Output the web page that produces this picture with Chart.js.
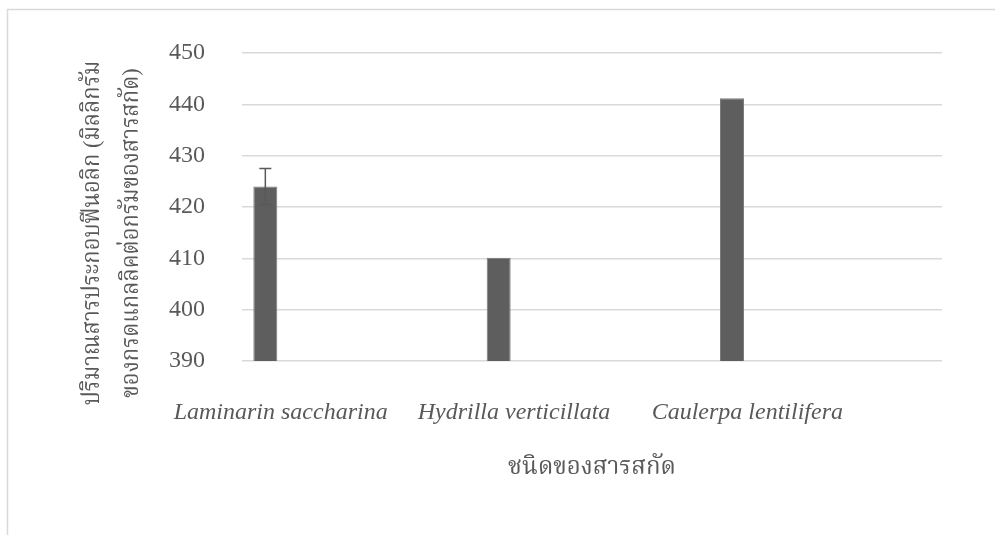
<!DOCTYPE html>
<html>
<head>
<meta charset="utf-8">
<script src="https://cdn.jsdelivr.net/npm/chart.js@4.4.1/dist/chart.umd.min.js"></script>
<style>
  html, body { margin: 0; padding: 0; background: #fff; }
  #wrap { width: 995px; height: 535px; position: relative; }
</style>
</head>
<body>
<div id="wrap"><canvas id="chart"></canvas></div>
<script>
// data
const CATEGORIES = ['Laminarin saccharina', 'Hydrilla verticillata', 'Caulerpa lentilifera'];
const PHENOLIC = [424.0, 410.1, 441.2];
const PHENOLIC_ERR = [3.5, 0, 0];
const Y_TICKS = [390, 400, 410, 420, 430, 440, 450];
const Y_TITLE_LINES = ['ปริมาณสารประกอบฟีนอลิก (มิลลิกรัม', 'ของกรดแกลลิคต่อกรัมของสารสกัด)'];
const X_TITLE = 'ชนิดของสารสกัด';

const SERIF = '"Liberation Serif", "Noto Serif Thai", "Noto Sans Thai", serif';
const TEXT_COLOR = '#595959';
const SLOTS = 5; // the original chart reserves room for 5 series per category

const datasets = [{
    label: 'phenolic',
    data: PHENOLIC,
    backgroundColor: '#5e5e5e',
    borderColor: '#7a7a7a',
    borderWidth: 1,
    barPercentage: 0.514,
    categoryPercentage: 1
}];
for (let i = 1; i < SLOTS; i++) {
    datasets.push({ label: 'empty' + i, data: CATEGORIES.map(() => null), barPercentage: 0.514, categoryPercentage: 1 });
}

const framePlugin = {
    id: 'frame',
    beforeDraw(chart) {
        const ctx = chart.ctx;
        ctx.save();
        ctx.fillStyle = '#fff';
        ctx.fillRect(0, 0, chart.width, chart.height);
        ctx.strokeStyle = '#d9d9d9';
        ctx.lineWidth = 1.5;
        ctx.strokeRect(7.5, 9.5, 1100, 1100);
        ctx.restore();
    }
};

const errorBarPlugin = {
    id: 'errorBars',
    afterDatasetsDraw(chart) {
        const ctx = chart.ctx;
        const y = chart.scales.y;
        const meta = chart.getDatasetMeta(0);
        ctx.save();
        ctx.strokeStyle = '#595959';
        ctx.lineWidth = 1.5;
        meta.data.forEach((bar, i) => {
            const e = PHENOLIC_ERR[i];
            if (!e) return;
            const top = y.getPixelForValue(PHENOLIC[i] + e);
            const bot = y.getPixelForValue(PHENOLIC[i] - e);
            ctx.beginPath();
            ctx.moveTo(bar.x, top); ctx.lineTo(bar.x, bot);
            ctx.moveTo(bar.x - 6, top); ctx.lineTo(bar.x + 6, top);
            ctx.moveTo(bar.x - 6, bot); ctx.lineTo(bar.x + 6, bot);
            ctx.stroke();
        });
        ctx.restore();
    }
};

// axis titles, centred on the plot area like the original
const titlesPlugin = {
    id: 'titles',
    afterDraw(chart) {
        const ctx = chart.ctx;
        const area = chart.chartArea;
        const cx = (area.left + area.right) / 2;
        ctx.save();
        ctx.fillStyle = TEXT_COLOR;
        ctx.font = '24px ' + SERIF;
        ctx.textAlign = 'center';
        ctx.textBaseline = 'middle';
        ctx.fillText(X_TITLE, cx, 468);
        ctx.translate(112, 233);
        ctx.rotate(-Math.PI / 2);
        ctx.scale(0.92, 1);
        ctx.fillText(Y_TITLE_LINES[0], 0, -19);
        ctx.fillText(Y_TITLE_LINES[1], 0, 20);
        ctx.restore();
    }
};

new Chart(document.getElementById('chart'), {
    type: 'bar',
    data: { labels: CATEGORIES, datasets: datasets },
    options: {
        responsive: true,
        maintainAspectRatio: false,
        animation: false,
        layout: { padding: { top: 53, right: 53, left: 0, bottom: 0 } },
        plugins: { legend: { display: false }, tooltip: { enabled: false } },
        scales: {
            x: {
                grid: { display: false, drawTicks: false },
                border: { display: false },
                ticks: {
                    color: TEXT_COLOR,
                    font: { family: SERIF, size: 24, style: 'italic' },
                    padding: 37,
                    labelOffset: -78,
                    maxRotation: 0
                },
                afterFit(scale) { scale.height = 174; }
            },
            y: {
                min: 390,
                max: 450,
                afterBuildTicks(scale) { scale.ticks = Y_TICKS.map(v => ({ value: v })); },
                grid: { color: '#d9d9d9', lineWidth: 1.5, drawTicks: false },
                border: { display: false },
                ticks: {
                    color: TEXT_COLOR,
                    font: { family: SERIF, size: 24 },
                    padding: 37
                },
                afterFit(scale) { scale.width = 242; }
            }
        }
    },
    plugins: [framePlugin, errorBarPlugin, titlesPlugin]
});
</script>
</body>
</html>
